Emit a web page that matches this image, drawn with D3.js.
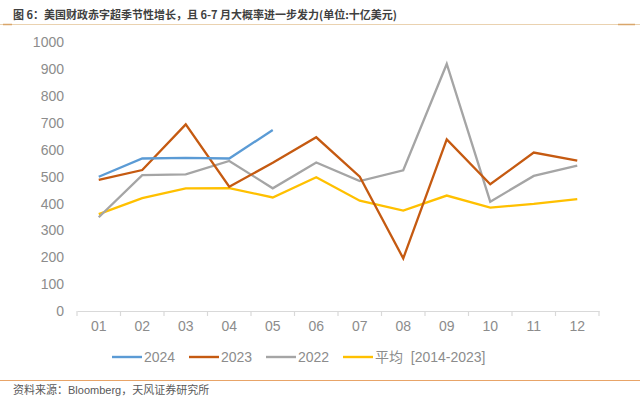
<!DOCTYPE html>
<html><head><meta charset="utf-8">
<script src="https://cdn.jsdelivr.net/npm/d3@7"></script>
<style>body{margin:0;background:#fff}svg{display:block}</style>
</head><body>
<svg id="c" width="640" height="401"></svg>
<script>
const months = ["01","02","03","04","05","06","07","08","09","10","11","12"];
const s2024 = [500,568,570,568,674];
const s2023 = [488,525,695,463,552,647,500,196,639,472,590,560];
const s2022 = [349,506,509,559,457,553,484,524,920,407,503,541];
const sAvg  = [361,420,457,458,423,498,411,374,430,385,399,417];
const yTicks = [0,100,200,300,400,500,600,700,800,900,1000];
const seriesNames = ["2024","2023","2022","平均  [2014-2023]"];
const colors = ["#5b9bd5","#c55a11","#a5a5a5","#ffc000"];
const seriesData = [s2024,s2023,s2022,sAvg];

const svg = d3.select("#c");
const font = "'Liberation Sans', Arial, 'Noto Sans CJK SC', sans-serif";

// title
svg.append("text").attr("x",13).attr("y",19)
  .attr("font-family","'Noto Sans CJK SC', sans-serif").attr("font-weight","bold")
  .attr("font-size",11).attr("fill","#404040")
  .text("图 6：美国财政赤字超季节性增长，且 6-7 月大概率进一步发力(单位:十亿美元)");
svg.append("line").attr("x1",0).attr("x2",640).attr("y1",24.5).attr("y2",24.5)
  .attr("stroke","#ead2b0").attr("stroke-width",1.2);
svg.append("line").attr("x1",3).attr("x2",12).attr("y1",24.5).attr("y2",24.5)
  .attr("stroke","#d9a66a").attr("stroke-width",1.5);
svg.append("line").attr("x1",618).attr("x2",635).attr("y1",24.5).attr("y2",24.5)
  .attr("stroke","#d9a66a").attr("stroke-width",1.5);

const x = d3.scaleBand().domain(months).range([77,599]);
const y = d3.scaleLinear().domain([0,1000]).range([311,42.5]);

// y axis labels
const ya = svg.append("g").attr("transform","translate(64,0)")
  .call(d3.axisLeft(y).tickValues(yTicks).tickFormat(d3.format("d")).tickSize(0).tickPadding(0));
ya.select(".domain").remove();
ya.selectAll("text").attr("font-family",font).attr("font-size",14).attr("fill","#8c8c8c");

// x axis
const xa = svg.append("g").attr("transform","translate(0,311)")
  .call(d3.axisBottom(x).tickSize(0).tickPadding(10));
xa.select(".domain").attr("stroke","#d9d9d9").attr("stroke-width",1.2);
xa.selectAll("text").attr("font-family",font).attr("font-size",14).attr("fill","#8c8c8c");
// category boundary ticks
svg.append("g").selectAll("line").data(months.concat(["end"])).join("line")
  .attr("x1",(d,i)=> i<12 ? x(d) : x(months[11])+x.bandwidth())
  .attr("x2",(d,i)=> i<12 ? x(d) : x(months[11])+x.bandwidth())
  .attr("y1",311).attr("y2",316).attr("stroke","#d9d9d9").attr("stroke-width",1.2);

const line = d3.line().x((d,i)=>x(months[i])+x.bandwidth()/2).y(d=>y(d));
[3,2,1,0].forEach(k=>{
  svg.append("path").datum(seriesData[k]).attr("d",line)
    .attr("fill","none").attr("stroke",colors[k]).attr("stroke-width",2.3)
    .attr("stroke-linejoin","miter");
});

// legend
const legX = [112,189,266,343];
const lg = svg.append("g");
seriesNames.forEach((n,i)=>{
  lg.append("line").attr("x1",legX[i]).attr("x2",legX[i]+30).attr("y1",357).attr("y2",357)
    .attr("stroke",colors[i]).attr("stroke-width",2.4);
  lg.append("text").attr("x",legX[i]+32).attr("y",362).attr("font-family",font)
    .attr("font-size",14).attr("fill","#8c8c8c").attr("xml:space","preserve").text(n);
});

// footer
svg.append("line").attr("x1",0).attr("x2",640).attr("y1",380.5).attr("y2",380.5)
  .attr("stroke","#e8a468").attr("stroke-width",1.2);
svg.append("text").attr("x",13).attr("y",394).attr("font-family",font)
  .attr("font-size",11).attr("fill","#595959").text("资料来源：Bloomberg，天风证券研究所");
</script>
</body></html>
